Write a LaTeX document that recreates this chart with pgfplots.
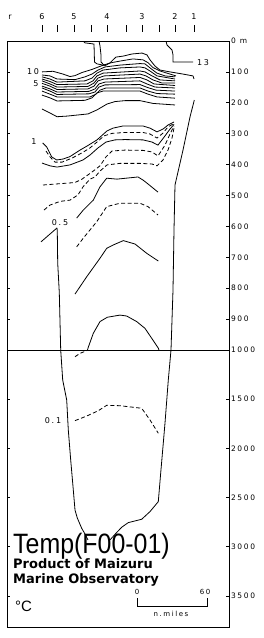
\documentclass[border=0pt]{standalone}
\usepackage{pgfplots}
\pgfplotsset{compat=1.18}
\usepackage{fontspec}
\setmainfont{DejaVu Sans}
\newfontfamily\tickfont[LetterSpace=22]{DejaVu Sans}
\newfontfamily\titlefont{Liberation Sans}
\begin{document}
\begin{tikzpicture}
\pgfplotsset{
  sec/.style={scale only axis, width=222pt, xmin=7, xmax=229,
    axis line style={line width=0.9pt}, xtick=\empty,
    yticklabel pos=right, ytick pos=both, tick align=inside, major tick length=3pt,
    ytick style={line width=0.8pt, black},
    yticklabel style={font=\tickfont\fontsize{7.5}{7.5}\selectfont, anchor=west, xshift=-1.5pt},
    cycle list={{black,solid}},
    every axis plot post/.append style={black, line width=0.8pt, mark=none},
    dsh/.style={dash pattern=on 4pt off 2.5pt}},
}
% station ticks
\begin{axis}[at={(7pt,-32pt)}, anchor=south west, scale only axis, width=222pt, height=7pt,
  xmin=7, xmax=229, ymin=0, ymax=1, hide y axis, axis x line*=top,
  x axis line style={draw=none}, tick align=inside, major tick length=7pt,
  xtick style={line width=0.8pt, black},
  xtick={42,57,74,91,107,126,142,159,175,194}, xticklabels={6,,5,,4,,3,,2,1},
  extra x ticks={10}, extra x tick labels={r}, extra x tick style={major tick length=0pt},
  xticklabel style={font=\tickfont\fontsize{8}{8}\selectfont, yshift=2pt}]
\addplot[draw=none] coordinates {(7,0) (229,1)};
\end{axis}
% upper section 0-1000 m (depth as negative numbers)
\begin{axis}[sec, at={(7pt,-350pt)}, anchor=south west, height=309pt, ymin=-1000, ymax=0,
  ytick={-1000,-900,...,0}, yticklabels={1000,900,800,700,600,500,400,300,200,100,0 m}]
% 13 degC and warm top lines
\addplot coordinates {(83,0) (85,-6) (90,-8) (94,-10) (94.5,-68) (97,-74) (103,-78) (106,-78)};
\addplot coordinates {(99,0) (100,-16) (101,-45) (101,-68) (104,-78) (106,-78)};
\addplot coordinates {(106,-78) (110,-71) (113,-61) (116,-52) (123,-49) (132,-42) (142,-39) (147,-45) (150,-61) (155,-81) (160,-94) (170,-100) (183,-107) (193,-113) (194,-123)};
\addplot coordinates {(166,0) (167,-13) (172,-29) (173,-45) (173,-68) (193,-68)};
% thermocline bundle
\addplot coordinates {(42,-100) (53,-98) (63,-107) (70,-115) (75,-112) (82,-102) (92,-92) (100,-82) (110,-71) (120,-65) (133,-58) (143,-61) (148,-70) (153,-86) (160,-97) (170,-107) (176,-113)};
\addplot coordinates {(42,-110) (50,-113) (57,-123) (75,-125) (85,-116) (92,-107) (98,-94) (105,-84) (120,-78) (140,-73) (145,-74) (150,-87) (157,-104) (165,-113) (175,-116)};
\addplot coordinates {(42,-116) (50,-123) (57,-133) (85,-129) (92,-120) (97,-104) (103,-94) (120,-87) (140,-84) (145,-87) (150,-97) (157,-113) (175,-123)};
\addplot coordinates {(42,-123) (50,-131) (57,-141) (87,-139) (93,-129) (97,-113) (103,-104) (140,-97) (145,-100) (152,-113) (160,-126) (175,-129)};
\addplot coordinates {(42,-129) (50,-139) (57,-149) (88,-147) (94,-136) (98,-120) (104,-113) (140,-107) (146,-113) (153,-126) (162,-136) (175,-136)};
\addplot coordinates {(42,-137) (50,-146) (57,-157) (88,-155) (94,-146) (98,-129) (104,-123) (140,-118) (147,-126) (154,-139) (175,-144)};
\addplot coordinates {(42,-146) (50,-155) (57,-165) (89,-163) (95,-155) (99,-139) (105,-133) (140,-129) (147,-139) (155,-149) (175,-152)};
\addplot coordinates {(42,-152) (50,-162) (57,-173) (89,-171) (95,-165) (99,-149) (105,-142) (140,-141) (148,-151) (156,-159) (175,-162)};
\addplot coordinates {(42,-162) (50,-172) (57,-181) (90,-181) (96,-172) (100,-159) (106,-152) (140,-152) (148,-162) (157,-170) (175,-172)};
\addplot coordinates {(42,-175) (50,-184) (57,-194) (85,-192) (92,-184) (97,-168) (103,-162) (140,-162) (148,-172) (157,-181) (175,-185)};
\addplot coordinates {(42,-220) (50,-233) (57,-245) (67,-243) (88,-236) (97,-223) (107,-204) (115,-196) (125,-193) (140,-193) (153,-202) (175,-207)};
% 1 degC and below
\addplot coordinates {(42.7,-330) (46.7,-343) (51.7,-375) (56.7,-385) (63,-382) (70,-374) (80,-353) (87,-340) (97,-320) (107,-291) (113,-282) (123,-275) (143,-275) (150,-282) (157,-294) (163,-285) (168,-272) (174,-262)};
\addplot[dsh] coordinates {(46,-356) (50,-375) (55,-392) (62,-392) (72,-379) (82,-362) (90,-346) (97,-327) (104,-307) (112,-299) (125,-296) (143,-296) (150,-301) (157,-314) (163,-298) (168,-278) (174,-267)};
\addplot coordinates {(42,-395) (50,-404) (57,-408) (70,-401) (83,-385) (90,-369) (98,-346) (106,-327) (115,-320) (125,-319) (143,-320) (152,-327) (158,-337) (165,-307) (170,-285) (174,-270)};
\addplot[dsh] coordinates {(43,-466) (55,-463) (67,-460) (75,-458) (82,-447) (92,-424) (100,-404) (106,-375) (112,-356) (125,-353) (143,-354) (152,-359) (158,-372) (165,-337) (170,-301) (174,-275)};
\addplot[dsh] coordinates {(44,-547) (50,-531) (60,-519) (70,-515) (78,-498) (83,-472) (90,-447) (95,-440) (100,-421) (107,-401) (120,-396) (140,-396) (152,-398) (157,-404) (163,-385) (168,-353) (172,-314) (174,-282)};
\addplot coordinates {(76.7,-573) (83.3,-547) (93.3,-515) (100,-472) (106.7,-444) (117,-447) (138,-440) (143,-450) (147,-460) (158,-489)};
\addplot[dsh] coordinates {(76.7,-666) (83.3,-638) (96.7,-585) (106.7,-536) (120,-525) (140,-525) (148,-536) (158,-563)};
\addplot coordinates {(75,-819) (86.7,-763) (100,-703) (106.7,-671) (113.3,-660) (123.3,-646) (135,-657) (146.7,-687) (158.3,-712)};
\addplot coordinates {(41,-650) (57,-605)};
\addplot coordinates {(87.5,-1000) (88.3,-991) (93.3,-946) (100,-908) (107.3,-894) (120,-887) (126.7,-890) (136.7,-908) (145,-930) (151.7,-962) (158.3,-994) (159,-1000)};
% bottom topography
\addplot coordinates {(57,-605) (57.3,-618) (57.7,-718) (59.3,-815) (60.7,-1000)};
\addplot coordinates {(194.3,-191) (190,-246) (183,-353) (175,-466) (174,-612) (173,-806) (171,-1000)};
% labels
\node[font=\tickfont\fontsize{8}{8}\selectfont] at (axis cs:203,-71) {13};
\node[font=\tickfont\fontsize{8}{8}\selectfont] at (axis cs:33,-100) {10};
\node[font=\tickfont\fontsize{8}{8}\selectfont] at (axis cs:36,-139) {5};
\node[font=\tickfont\fontsize{8}{8}\selectfont] at (axis cs:34,-327) {1};
\node[font=\tickfont\fontsize{8}{8}\selectfont] at (axis cs:60,-589) {0.5};
\end{axis}
% lower section 1000-3815 m
\begin{axis}[sec, at={(7pt,-627pt)}, anchor=south west, height=277pt, ymin=-3815, ymax=-1000,
  ytick={-3500,-3000,-2500,-2000,-1500}, yticklabels={3500,3000,2500,2000,1500}]
\addplot[dsh] coordinates {(75,-1068) (80,-1034) (86.7,-1007) (87.5,-1000)};
\addplot[dsh] coordinates {(75,-1718) (86.7,-1671) (98.3,-1617) (106.7,-1562) (120,-1566) (141.7,-1592) (150,-1711) (158.3,-1846)};
\addplot coordinates {(60.7,-1000) (62.7,-1305) (66.7,-1508) (68.3,-1813) (70.7,-2118) (73.3,-2422) (75,-2626) (77.3,-2707) (81.7,-2812) (85,-2870) (88,-2930)};
\addplot coordinates {(171,-1000) (168.3,-1305) (165,-1742) (163.3,-1945) (160.7,-2250) (158.3,-2541) (150,-2642) (141.7,-2720) (128.3,-2754) (121.7,-2801) (116,-2862) (110,-2930)};
\node[font=\tickfont\fontsize{8}{8}\selectfont] at (axis cs:53,-1718) {0.1};
\end{axis}
% annotations
\node[anchor=base west, inner sep=0] at (13pt,-553pt) {\titlefont\fontsize{28}{28}\selectfont\scalebox{0.89}[1]{Temp(F00-01)}};
\node[anchor=base west, inner sep=0] at (13pt,-568pt) {\fontsize{13}{13}\selectfont\bfseries Product of Maizuru};
\node[anchor=base west, inner sep=0] at (13pt,-583pt) {\fontsize{13}{13}\selectfont\bfseries Marine Observatory};
\node[anchor=base west, inner sep=0] at (15pt,-611pt) {\titlefont\fontsize{15}{15}\selectfont °C};
\draw[line width=0.8pt] (137pt,-598pt) -- (137pt,-606pt) -- (207pt,-606pt) -- (207pt,-598pt);
\node[font=\tickfont\fontsize{7}{7}\selectfont] at (137pt,-592pt) {0};
\node[font=\tickfont\fontsize{7}{7}\selectfont] at (205pt,-592pt) {60};
\node[font=\tickfont\fontsize{7}{7}\selectfont] at (171pt,-614pt) {n.miles};
\path (0pt,0pt) rectangle (263pt,-638pt);
\end{tikzpicture}
\end{document}
